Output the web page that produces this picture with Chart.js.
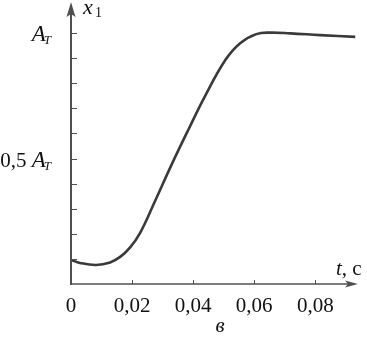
<!DOCTYPE html>
<html>
<head>
<meta charset="utf-8">
<script src="https://cdn.jsdelivr.net/npm/chart.js@4/dist/chart.umd.min.js"></script>
<style>
    html, body { margin: 0; padding: 0; background: #fff; }
    #wrap { width: 367px; height: 338px; position: relative; }
</style>
</head>
<body>
<div id="wrap"><canvas id="chart" width="367" height="338"></canvas></div>
<script>
const timeValues = [0, 0.00295, 0.0082, 0.0128, 0.0161, 0.0193, 0.0226, 0.0275, 0.0328, 0.0384,
    0.0439, 0.0505, 0.0554, 0.0607, 0.0652, 0.0718, 0.0816, 0.0931];
const x1Values = [0.096, 0.084, 0.076, 0.086, 0.108, 0.145, 0.203, 0.330, 0.472, 0.614,
    0.749, 0.892, 0.960, 0.996, 1.002, 0.999, 0.992, 0.985];

const xTickValues = [0, 0.02, 0.04, 0.06, 0.08];
const xTickLabels = ["0", "0,02", "0,04", "0,06", "0,08"];
const yTickValues = [0.1, 0.2, 0.3, 0.4, 0.5, 0.6, 0.7, 0.8, 0.9, 1.0];
const yLabelValues = [0.5, 1.0];
const yLabelPrefixes = ["0,5 ", ""];

const SERIF = "'Liberation Serif', 'DejaVu Serif', serif";
const AXIS_COLOR = "#505050";

const axesPlugin = {
    id: "axes",
    afterDraw(chart) {
        const ctx = chart.ctx;
        const xs = chart.scales.x;
        const ys = chart.scales.y;
        const x0 = xs.getPixelForValue(0);
        const y0 = ys.getPixelForValue(0);
        const xEnd = xs.right;
        const yEnd = ys.top;

        ctx.save();
        ctx.strokeStyle = AXIS_COLOR;
        ctx.fillStyle = AXIS_COLOR;

        // y axis with arrow
        ctx.lineWidth = 2;
        ctx.beginPath();
        ctx.moveTo(x0, y0 + 1);
        ctx.lineTo(x0, yEnd + 10);
        ctx.stroke();
        ctx.beginPath();
        ctx.moveTo(x0, yEnd - 1);
        ctx.lineTo(x0 - 4.5, yEnd + 14);
        ctx.lineTo(x0, yEnd + 11);
        ctx.lineTo(x0 + 4.5, yEnd + 14);
        ctx.closePath();
        ctx.fill();

        // x axis with arrow
        ctx.lineWidth = 1.5;
        ctx.beginPath();
        ctx.moveTo(x0, y0);
        ctx.lineTo(xEnd - 8, y0);
        ctx.stroke();
        ctx.beginPath();
        ctx.moveTo(xEnd, y0);
        ctx.lineTo(xEnd - 13, y0 - 3.5);
        ctx.lineTo(xEnd - 10, y0);
        ctx.lineTo(xEnd - 13, y0 + 3.5);
        ctx.closePath();
        ctx.fill();

        // tick marks
        ctx.lineWidth = 1;
        yTickValues.forEach(v => {
            const py = Math.round(ys.getPixelForValue(v)) + 0.5;
            ctx.beginPath();
            ctx.moveTo(x0, py);
            ctx.lineTo(x0 + 6, py);
            ctx.stroke();
        });
        xTickValues.forEach(v => {
            if (v === 0) return;
            const px = Math.round(xs.getPixelForValue(v)) + 0.5;
            ctx.beginPath();
            ctx.moveTo(px, y0);
            ctx.lineTo(px, y0 - 4);
            ctx.stroke();
        });

        // x tick labels
        ctx.fillStyle = "#111";
        ctx.font = "21px " + SERIF;
        ctx.textAlign = "center";
        ctx.textBaseline = "alphabetic";
        xTickValues.forEach((v, i) => {
            ctx.fillText(xTickLabels[i], xs.getPixelForValue(v), y0 + 28);
        });

        // y tick labels: prefix + italic A with subscript T
        yLabelValues.forEach((v, i) => {
            const py = ys.getPixelForValue(v) + 8;
            const right = x0 - 18;
            ctx.font = "italic 13px " + SERIF;
            const wT = ctx.measureText("T").width;
            ctx.font = "italic 23px " + SERIF;
            const wA = ctx.measureText("A").width;
            ctx.font = "21px " + SERIF;
            const wP = ctx.measureText(yLabelPrefixes[i]).width;
            let x = right - wT - wA - wP;
            ctx.textAlign = "left";
            ctx.fillText(yLabelPrefixes[i], x, py);
            x += wP;
            ctx.font = "italic 23px " + SERIF;
            ctx.fillText("A", x, py);
            x += wA;
            ctx.font = "italic 13px " + SERIF;
            ctx.fillText("T", x - 2, py + 3);
        });

        // axis titles
        ctx.textAlign = "left";
        ctx.font = "italic 22px " + SERIF;
        ctx.fillText("x", x0 + 12, yEnd + 11);
        ctx.font = "14px " + SERIF;
        ctx.fillText("1", x0 + 24, yEnd + 14);

        ctx.font = "italic 21px " + SERIF;
        ctx.fillText("t", 336, y0 - 9);
        const wt = ctx.measureText("t").width;
        ctx.font = "21px " + SERIF;
        ctx.fillText(", c", 336 + wt, y0 - 9);

        // caption
        ctx.textAlign = "center";
        ctx.font = "italic 21px " + SERIF;
        ctx.fillText("в", 220, y0 + 48);

        ctx.restore();
    }
};

const ctx = document.getElementById("chart").getContext("2d");
new Chart(ctx, {
    type: "line",
    data: {
        datasets: [{
            data: timeValues.map((t, i) => ({ x: t, y: x1Values[i] })),
            borderColor: "#3a3a3a",
            borderWidth: 2.6,
            pointRadius: 0,
            fill: false,
            tension: 0.4,
        }]
    },
    options: {
        responsive: false,
        animation: false,
        layout: {
            padding: { left: 71, top: 3, right: 9, bottom: 54 }
        },
        plugins: {
            legend: { display: false },
            tooltip: { enabled: false },
        },
        scales: {
            x: {
                type: "linear",
                display: false,
                min: 0,
                max: 0.094,
            },
            y: {
                type: "linear",
                display: false,
                min: 0,
                max: 1.12,
            }
        }
    },
    plugins: [axesPlugin]
});
</script>
</body>
</html>
